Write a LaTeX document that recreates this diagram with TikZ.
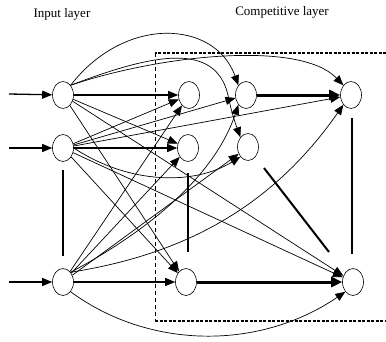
\documentclass[tikz,border=0pt]{standalone}
\usepackage{fontspec}
\setmainfont{Liberation Serif}
\usetikzlibrary{shapes.geometric,arrows.meta}
\begin{document}
\begin{tikzpicture}[x=1pt,y=-1pt,
  neuron/.style={draw,ellipse,line width=0.6pt,minimum width=21pt,minimum height=27pt,inner sep=0pt},
  link/.style={line width=0.7pt,-{Triangle[length=10pt,width=8pt]}},
  boldlink/.style={line width=1.3pt,-{Triangle[length=10pt,width=8pt]}},
  heavylink/.style={line width=3pt,-{Triangle[length=11pt,width=10pt]}},
  bar/.style={line width=2pt},
  frame/.style={line width=1.2pt,dash pattern=on 3pt off 1.5pt},
  frameside/.style={line width=0.8pt,dash pattern=on 4pt off 3pt},
  caption/.style={font=\fontsize{13}{15}\selectfont}]
\useasboundingbox (0,0) rectangle (386,341);

% labels
\node[caption] (tin) at (62,14) {Input layer};
\node[caption] (tcomp) at (282,12) {Competitive layer};

% dashed frame around the competitive layer
\coordinate (fa) at (386,53);
\coordinate (fb) at (155,53);
\coordinate (fc) at (155,321);
\coordinate (fd) at (386,321);
\draw[frame] (fa) -- (fb);
\draw[frameside] (fb) -- (fc);
\draw[frame] (fc) -- (fd);

% input neurons
\node[neuron] (I1) at (63,95) {};
\node[neuron] (I2) at (63,148) {};
\node[neuron] (I3) at (63,282) {};

% competitive neurons
\node[neuron] (C1) at (189,95) {};
\node[neuron] (C2) at (188,148) {};
\node[neuron] (C3) at (186,282) {};
\node[neuron] (M1) at (246,95) {};
\node[neuron] (M2) at (248,147) {};
\node[neuron] (R1) at (351,95) {};
\node[neuron] (R3) at (353,282) {};

% external inputs
\coordinate (x1) at (9,94);
\coordinate (x2) at (9,148);
\coordinate (x3) at (9,282);
\draw[boldlink] (x1) -- (I1);
\draw[boldlink] (x2) -- (I2);
\draw[boldlink] (x3) -- (I3);

% lateral bars
\coordinate (b1) at (63,170); \coordinate (b2) at (63,256);
\coordinate (b3) at (188,173); \coordinate (b4) at (188,252);
\coordinate (b5) at (352,118); \coordinate (b6) at (352,254);
\coordinate (b7) at (264,168); \coordinate (b8) at (329,252);
\draw[bar] (b1) -- (b2);
\draw[bar] (b3) -- (b4);
\draw[bar] (b5) -- (b6);
\draw[bar] (b7) -- (b8);

% strong links inside the competitive layer
\draw[heavylink] (M1) -- (R1);
\draw[heavylink] (C3) -- (R3);

% links from the first input
\draw[boldlink] (I1) -- (C1);
\draw[link] (I1) -- (C2);
\draw[link] (I1) -- (C3);
\draw[link] (I1) -- (R3);
\draw[link] (I1.north east) .. controls (125,15) and (215,20) .. (M1.north west);
\draw[link] (I1.north east) .. controls (160,55) and (300,40) .. (R1.north west);
\draw[link] (I1.north east) .. controls (150,55) and (215,40) .. (228,95) .. controls (232,115) and (236,125) .. (M2.north west);

% links from the second input
\draw[boldlink] (I2) -- (C2);
\draw[link] (I2) -- (C1);
\draw[link] (I2) -- (M1);
\draw[link] (I2) -- (R1);
\draw[link] (I2) -- (C3);
\draw[link] (I2) -- (R3);
\draw[link] (I2.east) .. controls (130,185) and (195,185) .. (M2.south west);

% links from the third input
\draw[boldlink] (I3) -- (C3);
\draw[link] (I3) -- (C1);
\draw[link] (I3) -- (C2);
\draw[link] (I3) -- (M2);
\draw[link] (I3.north east) .. controls (150,230) and (215,175) .. (M1.south west);
\draw[link] (I3.north east) .. controls (180,255) and (270,210) .. (R1.south west);
\draw[link] (I3.south east) .. controls (150,350) and (260,350) .. (R3.south west);
\end{tikzpicture}
\end{document}
